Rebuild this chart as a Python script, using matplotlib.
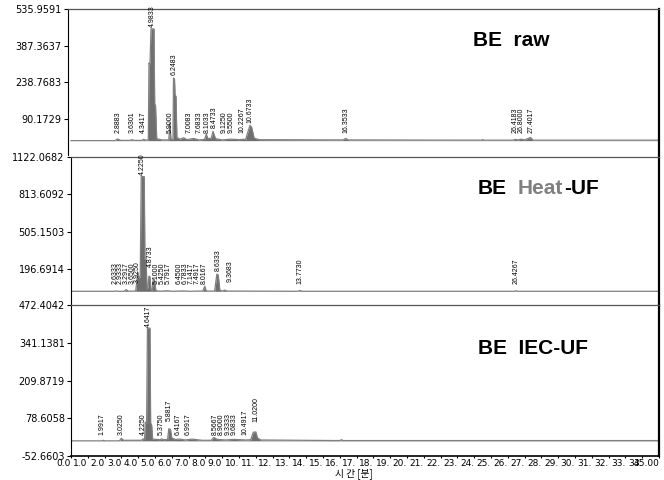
import matplotlib
matplotlib.use("Agg")
import matplotlib.pyplot as plt

plt.rcParams["font.family"] = ["DejaVu Sans"]

# retention time axis (min)
x_ticks = list(range(0, 36))
x_ticklabels = [f"{i}.0" for i in range(10)] + [f"{i}." for i in range(10, 35)] + ["35.00"]

# ---- BE raw ----
raw_t = [0.0, 2.60, 2.78, 2.95, 3.50, 3.62, 3.75, 4.20, 4.32, 4.45, 4.60, 4.64, 4.70, 4.76, 4.94,
         4.98, 5.03, 5.10, 5.40, 5.82, 5.88, 5.95, 6.07, 6.10, 6.16, 6.19, 6.25, 6.30, 6.50, 6.70,
         6.90, 7.30, 7.60, 7.95, 8.05, 8.15, 8.35, 8.45, 8.60, 9.00, 9.50, 10.00, 10.40, 10.55,
         10.65, 10.75, 10.90, 11.20, 16.20, 16.35, 16.50, 24.45, 24.50, 24.55, 26.30, 26.45,
         26.60, 26.80, 27.00, 27.35, 27.50, 35.0]
raw_v = [0, 0, 7, 1, 1, 4, 1, 1, 5, 2, 3, 316, 310, 455, 455,
         150, 142, 8, 3, 3, 72, 5, 5, 255, 250, 186, 180, 12, 6, 12,
         4, 9, 3, 5, 26, 8, 10, 38, 8, 3, 6, 4, 6, 40,
         62, 55, 10, 4, 3, 9, 3, 2, 5, 2, 2, 5,
         3, 6, 3, 13, 2, 2]
raw_yticks = [90.1729, 238.7683, 387.3637, 535.9591]
raw_ylabels = ["90.1729", "238.7683", "387.3637", "535.9591"]
raw_ylim = (-58.4225, 535.9591)
raw_pk_t = [2.80, 3.62, 4.30, 4.86, 5.88, 6.13, 7.01, 7.60, 8.08, 8.50, 9.10, 9.52, 10.18,
            10.66, 16.35, 26.45, 26.80, 27.37]
raw_pk_lbl = ["2.8883", "3.6301", "4.3417", "4.9833", "5.9000", "6.2483", "7.0083", "7.6833",
              "8.1033", "8.4733", "9.1250", "9.5500", "10.2267", "10.6733", "16.3533",
              "26.4183", "26.8000", "27.4017"]
raw_pk_y = [30, 30, 30, 462, 30, 268, 30, 30, 30, 50, 30, 30, 30, 72, 30, 30, 30, 30]

# ---- BE Heat-UF ----
heat_t = [0.0, 2.60, 2.70, 2.80, 3.15, 3.28, 3.40, 3.85, 3.98, 4.05, 4.12, 4.18, 4.36, 4.40,
          4.47, 4.52, 4.58, 4.64, 4.70, 4.76, 4.84, 4.90, 4.97, 5.05, 5.30, 5.70, 6.10, 6.60,
          7.10, 7.60, 7.85, 7.96, 8.05, 8.55, 8.68, 8.76, 8.86, 9.00, 9.15, 9.28, 13.50, 13.62,
          13.75, 26.40, 26.48, 26.56, 35.0]
heat_v = [10, 10, 13, 10, 10, 24, 11, 12, 167, 120, 130, 960, 960, 275,
          270, 30, 40, 135, 130, 22, 22, 110, 104, 15, 11, 14, 10, 13,
          10, 12, 12, 52, 12, 12, 152, 146, 18, 12, 20, 12, 10, 17,
          10, 10, 14, 10, 10]
heat_yticks = [196.6914, 505.1503, 813.6092, 1122.0682]
heat_ylabels = ["196.6914", "505.1503", "813.6092", "1122.0682"]
heat_ylim = (-111.7675, 1122.0682)
heat_pk_t = [2.63, 2.95, 3.30, 3.65, 3.92, 4.27, 4.72, 5.10, 5.45, 5.80, 6.45, 6.80, 7.15,
             7.50, 7.95, 8.78, 9.46, 13.60, 26.47]
heat_pk_lbl = ["2.6333", "2.9333", "3.2917", "3.6500", "3.9250", "4.2250", "4.8733", "5.1000",
               "5.4250", "5.7917", "6.4500", "6.7833", "7.1417", "7.4917", "8.0167", "8.6333",
               "9.3683", "13.7730", "26.4267"]
heat_pk_y = [70, 70, 70, 70, 80, 975, 210, 70, 70, 70, 70, 70, 70, 70, 70, 176, 85, 70, 70]

# ---- BE IEC-UF ----
iec_t = [0.0, 1.85, 1.90, 2.00, 2.88, 3.00, 3.12, 4.20, 4.30, 4.38, 4.42, 4.50, 4.55, 4.70,
         4.74, 4.80, 4.86, 5.30, 5.40, 5.50, 5.75, 5.82, 5.92, 6.00, 6.20, 6.50, 6.80, 7.20,
         7.80, 8.35, 8.50, 8.70, 9.20, 9.70, 10.40, 10.70, 10.85, 11.00, 11.10, 11.30, 16.00,
         16.10, 16.20, 35.0]
iec_v = [0, 0, 2, 0, 0, 9, 2, 2, 7, 4, 65, 60, 392, 392,
         62, 55, 6, 4, 7, 4, 5, 42, 40, 10, 5, 6, 3, 6,
         2, 2, 12, 5, 3, 5, 3, 4, 30, 31, 10, 3, 1,
         4, 1, 1]
iec_yticks = [-52.6603, 78.6058, 209.8719, 341.1381, 472.4042]
iec_ylabels = ["-52.6603", "78.6058", "209.8719", "341.1381", "472.4042"]
iec_ylim = (-52.6603, 472.4042)
iec_pk_t = [1.86, 2.99, 4.28, 4.63, 5.39, 5.87, 6.40, 6.95, 8.56, 8.92, 9.34, 9.70, 10.36, 11.00]
iec_pk_lbl = ["1.9917", "3.0250", "4.2250", "4.6417", "5.3750", "5.8817", "6.4167", "6.9917",
              "8.5667", "8.9000", "9.3333", "9.6833", "10.4917", "11.0200"]
iec_pk_y = [22, 22, 22, 395, 22, 70, 22, 22, 22, 22, 22, 22, 22, 65]


W, H = 664, 480
fig = plt.figure(figsize=(W / 100, H / 100), dpi=100)


def px_axes(left, top, right, bottom):
    return fig.add_axes([left / W, 1 - bottom / H, (right - left) / W, (bottom - top) / H])


def draw_panel(ax, t, v, base, yticks, ylabels, ylim, pk_t, pk_lbl, pk_y, xlim, bottom_axis=False):
    ax.fill_between(t, v, base, color="#6e6e6e", lw=0)
    ax.plot(t, v, color="#808080", lw=0.9)
    for tt, s, yy in zip(pk_t, pk_lbl, pk_y):
        ax.text(tt, yy, s, rotation=90, ha="center", va="bottom", fontsize=5,
                family="Liberation Sans", color="black")
    ax.set_xlim(*xlim)
    ax.set_ylim(*ylim)
    ax.set_yticks(yticks)
    ax.set_yticklabels(ylabels, fontsize=7)
    ax.tick_params(axis="y", length=3, width=0.8, pad=1.5, direction="out")
    ax.spines["left"].set_color("black")
    ax.spines["left"].set_linewidth(0.8)
    ax.spines["right"].set_color("black")
    ax.spines["right"].set_linewidth(1.6)
    ax.spines["top"].set_color("#555555")
    ax.spines["top"].set_linewidth(0.9)
    if bottom_axis:
        ax.spines["bottom"].set_color("black")
        ax.spines["bottom"].set_linewidth(1.2)
        ax.set_xticks(x_ticks)
        ax.set_xticklabels(x_ticklabels, fontsize=6.5)
        for lbl in ax.get_xticklabels():
            lbl.set_horizontalalignment("right")
        ax.tick_params(axis="x", length=1.5, width=0.8, pad=0.5, direction="out")
    else:
        ax.spines["bottom"].set_visible(False)
        ax.set_xticks([])


ax1 = px_axes(68, 9, 659, 155)
draw_panel(ax1, raw_t, raw_v, 0, raw_yticks, raw_ylabels, raw_ylim,
           raw_pk_t, raw_pk_lbl, raw_pk_y, (-0.18, 35))

ax2 = px_axes(71, 157, 659, 306)
draw_panel(ax2, heat_t, heat_v, 10, heat_yticks, heat_ylabels, heat_ylim,
           heat_pk_t, heat_pk_lbl, heat_pk_y, (0, 35))

ax3 = px_axes(71, 305, 659, 456)
draw_panel(ax3, iec_t, iec_v, 0, iec_yticks, iec_ylabels, iec_ylim,
           iec_pk_t, iec_pk_lbl, iec_pk_y, (0, 35), bottom_axis=True)

fig.text(354 / W, 1 - 474 / H, "시 간 [분]", ha="center", va="center", fontsize=7,
         family=["Noto Sans CJK KR", "DejaVu Sans"])

# sample titles
title_kw = dict(fontsize=15, fontweight="bold", family="Liberation Sans", va="center", ha="left")
fig.text(473 / W, 1 - 40 / H, "BE  raw", color="black", **title_kw)
fig.text(478 / W, 1 - 349 / H, "BE  IEC-UF", color="black", **title_kw)

r = fig.canvas.get_renderer()
x0 = 478 / W
y0 = 1 - 188 / H
t_be = fig.text(x0, y0, "BE", color="black", **title_kw)
x0 += t_be.get_window_extent(renderer=r).width / W + 11 / W
t_heat = fig.text(x0, y0, "Heat", color="#808080", **title_kw)
x0 += t_heat.get_window_extent(renderer=r).width / W + 1 / W
fig.text(x0, y0, "-UF", color="black", **title_kw)

fig.savefig("out.png", dpi=100)
